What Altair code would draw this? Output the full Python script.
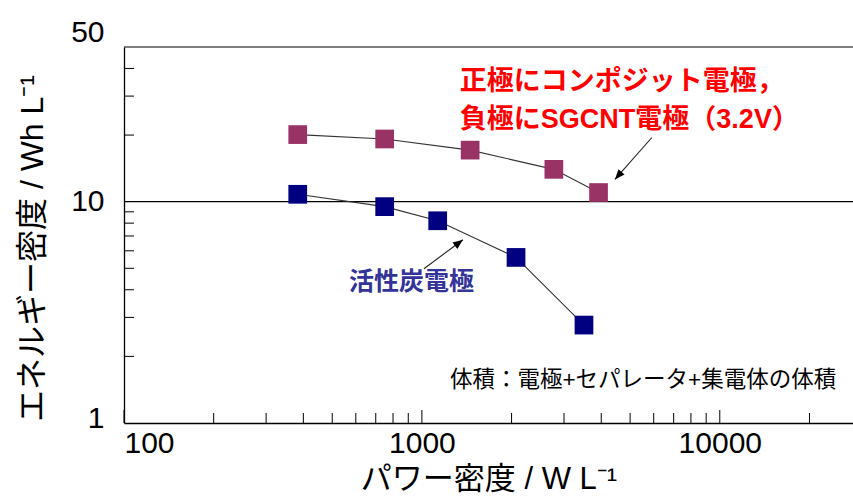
import altair as alt
import pandas as pd

# Ragone data: power density (W/L) vs energy density (Wh/L)
power_composite = [383, 750, 1452, 2773, 3917]
energy_composite = [20.1, 19.2, 17.1, 14.0, 11.0]
power_activated = [383, 750, 1130, 2070, 3500]
energy_activated = [10.8, 9.5, 8.2, 5.6, 2.77]

series_names = ["composite", "activated"]
series_colors = ["#993366", "#000080"]

x_major = [100, 1000, 10000]
x_minor = [200, 300, 400, 500, 600, 700, 800, 900,
           2000, 3000, 4000, 5000, 6000, 7000, 8000, 9000, 20000]
y_labels = [1, 10, 50]
y_minor = [2, 3, 4, 5, 6, 7, 8, 9, 20, 30, 40]
y_lines = [10, 50]

W, H = 729, 376
LATIN = "Liberation Sans, Noto Sans CJK JP"
CJK = "Noto Sans CJK JP"

df = pd.DataFrame({
    "P": power_composite + power_activated,
    "E": energy_composite + energy_activated,
    "series": [series_names[0]] * len(power_composite) + [series_names[1]] * len(power_activated),
})

x_scale = alt.Scale(type="log", domain=[100, 28000], nice=False)
y_scale = alt.Scale(type="log", domain=[1, 50], nice=False)

x_axis = alt.Axis(
    values=x_major, format="d", ticks=False, tickSize=0, grid=False,
    domainColor="black", domainWidth=1.3,
    labelFont=LATIN, labelFontSize=30, labelColor="black", labelPadding=5,
    title="パワー密度 / W L⁻¹", titleFont=LATIN, titleFontSize=31,
    titleFontWeight="normal", titleColor="black", titlePadding=6,
)
y_axis = alt.Axis(
    values=y_labels, format="d", ticks=False, tickSize=0, grid=False,
    domainColor="black", domainWidth=1.3,
    labelFont=LATIN, labelFontSize=30, labelColor="black", labelPadding=20,
    labelOffset={
        "condition": [
            {"test": "datum.value == 50", "value": -15},
            {"test": "datum.value == 1", "value": -5},
        ],
        "value": 0,
    },
    title="エネルギー密度 / Wh L⁻¹", titleFont=LATIN, titleFontSize=32,
    titleFontWeight="normal", titleColor="black",
    titleX=-75, titleY=201, titleAnchor="middle",
)

X = alt.X("P:Q", scale=x_scale, axis=x_axis)
Y = alt.Y("E:Q", scale=y_scale, axis=y_axis)

# frame top and the 10 Wh/L reference line
hlines = alt.Chart(pd.DataFrame({"E": y_lines})).mark_rule(
    color="black", strokeWidth=1.2
).encode(y=Y)

# inward ticks on the bottom axis
x_major_ticks = alt.Chart(pd.DataFrame({"P": x_major})).mark_rule(
    color="black", strokeWidth=1
).encode(x=X, y=alt.value(H), y2=alt.value(H - 13))
x_minor_ticks = alt.Chart(pd.DataFrame({"P": x_minor})).mark_rule(
    color="black", strokeWidth=1
).encode(x=X, y=alt.value(H), y2=alt.value(H - 10))

# inward ticks on the left axis
y_minor_ticks = alt.Chart(pd.DataFrame({"E": y_minor})).mark_rule(
    color="black", strokeWidth=1
).encode(y=Y, x=alt.value(0), x2=alt.value(10))

lines = alt.Chart(df).mark_line(color="#333333", strokeWidth=1.1).encode(
    x=X, y=Y, detail="series:N"
)
points = alt.Chart(df).mark_square(size=350, opacity=1, filled=True).encode(
    x=X, y=Y,
    color=alt.Color("series:N", scale=alt.Scale(domain=series_names, range=series_colors), legend=None),
)

# annotations
red_text = alt.Chart(pd.DataFrame({
    "P": [1341, 1341], "E": [34.9, 23.3],
    "t": ["正極にコンポジット電極，", "負極にSGCNT電極（3.2V）"],
})).mark_text(
    align="left", baseline="middle", font=LATIN, fontSize=27, fontWeight="bold", color="#ff0000"
).encode(x=X, y=Y, text="t:N")

blue_text = alt.Chart(pd.DataFrame({"P": [569], "E": [4.35], "t": ["活性炭電極"]})).mark_text(
    align="left", baseline="middle", font=CJK, fontSize=25, fontWeight="bold", color="#333399"
).encode(x=X, y=Y, text="t:N")

note_text = alt.Chart(pd.DataFrame({"P": [1242], "E": [1.566], "t": ["体積：電極+セパレータ+集電体の体積"]})).mark_text(
    align="left", baseline="middle", font=LATIN, fontSize=22.5, color="black"
).encode(x=X, y=Y, text="t:N")

HEAD = "M0,0L-0.4,1L0.4,1Z"

red_arrow = alt.Chart(pd.DataFrame({"P": [5916, 4446], "E": [19.5, 12.6], "o": [0, 1]})).mark_line(
    color="#222222", strokeWidth=1.1
).encode(x=X, y=Y, order="o:Q")
red_head = alt.Chart(pd.DataFrame({"P": [4446], "E": [12.6]})).mark_point(
    shape=HEAD, size=400, filled=True, color="black", opacity=1, angle=221
).encode(x=X, y=Y)

blue_arrow = alt.Chart(pd.DataFrame({"P": [1016, 1373], "E": [4.98, 6.73], "o": [0, 1]})).mark_line(
    color="#222222", strokeWidth=1.1
).encode(x=X, y=Y, order="o:Q")
blue_head = alt.Chart(pd.DataFrame({"P": [1373], "E": [6.73]})).mark_point(
    shape=HEAD, size=400, filled=True, color="black", opacity=1, angle=53
).encode(x=X, y=Y)

chart = alt.layer(
    hlines, x_major_ticks, x_minor_ticks, y_minor_ticks,
    lines, points, red_arrow, red_head, blue_arrow, blue_head,
    red_text, blue_text, note_text,
).properties(
    width=W, height=H,
    autosize=alt.AutoSizeParams(type="none"),
    padding={"left": 124, "top": 47, "right": 0, "bottom": 73},
    background="white",
).configure_view(stroke=None)

chart.save("out.html", embed_options={"renderer": "svg", "actions": False})
